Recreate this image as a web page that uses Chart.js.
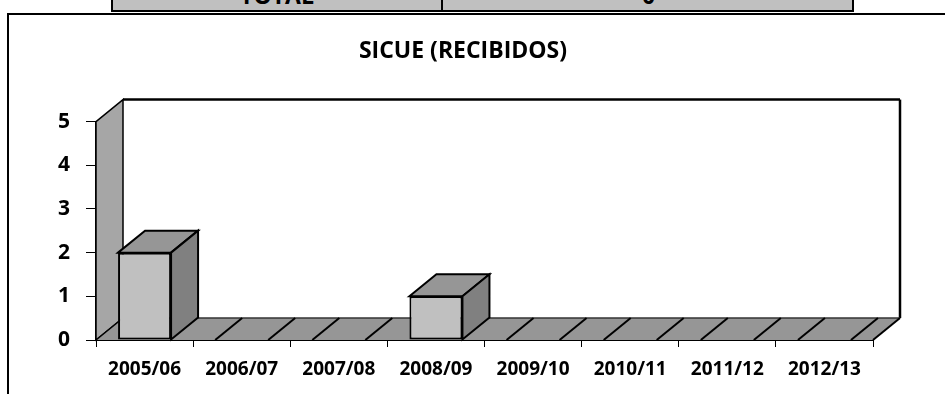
<!DOCTYPE html>
<html>
<head>
<meta charset="utf-8">
<title>SICUE (RECIBIDOS)</title>
<script src="https://cdn.jsdelivr.net/npm/chart.js@4.4.1/dist/chart.umd.min.js"></script>
<style>
  html, body { margin: 0; padding: 0; background: #fff; }
  body { position: relative; width: 945px; height: 394px; overflow: hidden; font-family: "Open Sans", sans-serif; }

  /* bottom edge of the summary table above the chart */
  .tbl { position: absolute; left: 111px; top: -30px; width: 739px; height: 38px; background: #c0c0c0; border: 2px solid #000; overflow: hidden; }
  .tbl .cell { position: absolute; top: 0; height: 38px; overflow: hidden; }
  .tbl .c1 { left: 0; width: 328px; }
  .tbl .c2 { left: 328px; width: 411px; border-left: 2px solid #000; }
  .tbl span { position: absolute; left: 0; right: 0; top: 12px; text-align: center; font: bold 23px/22px "Open Sans", sans-serif; color: #000; }

  .frame { position: absolute; left: 7px; top: 13px; width: 2000px; height: 2000px; border: 2px solid #000; }
  #chart { position: absolute; left: 0; top: 0; }
</style>
</head>
<body>
<div class="tbl">
  <div class="cell c1"><span>TOTAL</span></div>
  <div class="cell c2"><span>0</span></div>
</div>
<div class="frame"></div>
<canvas id="chart" width="945" height="394"></canvas>

<script>
const seasons = ["2005/06", "2006/07", "2007/08", "2008/09", "2009/10", "2010/11", "2011/12", "2012/13"];
const received = [2, 0, 0, 1, 0, 0, 0, 0];
const yTicks = [0, 1, 2, 3, 4, 5];

const FONT = "'Open Sans', sans-serif";
// depth of the fake 3D box (right / up)
const DX = 27;
const DY = -22;

function poly(ctx, pts) {
  ctx.beginPath();
  ctx.moveTo(pts[0][0], pts[0][1]);
  for (let i = 1; i < pts.length; i++) ctx.lineTo(pts[i][0], pts[i][1]);
  ctx.closePath();
}

function line(ctx, x1, y1, x2, y2, color, width) {
  ctx.beginPath();
  ctx.moveTo(x1, y1);
  ctx.lineTo(x2, y2);
  ctx.strokeStyle = color;
  ctx.lineWidth = width;
  ctx.stroke();
}

const box3d = {
  id: "box3d",
  beforeDatasetsDraw(chart) {
    const { ctx, chartArea, scales } = chart;
    const left = chartArea.left;
    const right = chartArea.right;
    const yBase = scales.y.getPixelForValue(yTicks[0]);
    const yTop = scales.y.getPixelForValue(yTicks[yTicks.length - 1]);

    ctx.save();
    ctx.lineJoin = "miter";

    // back wall
    ctx.fillStyle = "#ffffff";
    ctx.fillRect(left + DX, yTop + DY, right - left, yBase - yTop);
    line(ctx, left + DX, yTop + DY, right + DX, yTop + DY, "#000", 2.5);
    line(ctx, right + DX, yTop + DY, right + DX, yBase + DY, "#000", 2.5);

    // side wall
    poly(ctx, [[left, yBase], [left + DX, yBase + DY], [left + DX, yTop + DY], [left, yTop]]);
    ctx.fillStyle = "#a6a6a6";
    ctx.fill();
    ctx.strokeStyle = "#000";
    ctx.lineWidth = 1.5;
    ctx.stroke();

    // floor
    poly(ctx, [[left, yBase], [right, yBase], [right + DX, yBase + DY], [left + DX, yBase + DY]]);
    ctx.fillStyle = "#969696";
    ctx.fill();
    line(ctx, left + DX, yBase + DY, right + DX, yBase + DY, "#333", 1.5);
    line(ctx, right, yBase, right + DX, yBase + DY, "#000", 2);
    line(ctx, left, yBase, left + DX, yBase + DY, "#000", 1.5);
    ctx.restore();
  },
  afterDatasetsDraw(chart) {
    const { ctx } = chart;
    const meta = chart.getDatasetMeta(0);
    ctx.save();
    ctx.lineJoin = "miter";
    meta.data.forEach((bar, i) => {
      const x0 = bar.x - bar.width / 2;
      const x1 = bar.x + bar.width / 2;
      const yt = bar.y;
      const yb = bar.base;
      if (received[i] > 0) {
        // top face
        poly(ctx, [[x0, yt], [x0 + DX, yt + DY], [x1 + DX, yt + DY], [x1, yt]]);
        ctx.fillStyle = "#969696";
        ctx.fill();
        ctx.strokeStyle = "#000";
        ctx.lineWidth = 2;
        ctx.stroke();
        // right face
        poly(ctx, [[x1, yt], [x1 + DX, yt + DY], [x1 + DX, yb + DY], [x1, yb]]);
        ctx.fillStyle = "#808080";
        ctx.fill();
        ctx.stroke();
      } else {
        // flat column lying on the floor
        line(ctx, x0, yb, x0 + DX, yb + DY, "#000", 2);
        line(ctx, x1, yb, x1 + DX, yb + DY, "#000", 2);
      }
    });
    ctx.restore();
  }
};

new Chart(document.getElementById("chart"), {
  type: "bar",
  data: {
    labels: seasons,
    datasets: [{
      data: received,
      backgroundColor: "#c0c0c0",
      borderColor: "#000",
      borderWidth: 2,
      borderSkipped: false,
      categoryPercentage: 1,
      barPercentage: 0.546
    }]
  },
  options: {
    responsive: false,
    animation: false,
    devicePixelRatio: 1,
    layout: { padding: { left: 53, right: 72, top: 0, bottom: 0 } },
    scales: {
      x: {
        offset: true,
        grid: { offset: true, drawOnChartArea: false, drawTicks: true, tickLength: 7, color: "#000", lineWidth: 1 },
        border: { display: true, color: "#000", width: 2 },
        ticks: { color: "#000", font: { family: FONT, size: 19, weight: "bold" }, padding: 11, maxRotation: 0, autoSkip: false },
        afterFit: (scale) => { scale.height = 54; }
      },
      y: {
        min: yTicks[0],
        max: yTicks[yTicks.length - 1],
        grid: { drawOnChartArea: false, drawTicks: true, tickLength: 10, color: "#000", lineWidth: 1 },
        border: { display: true, color: "#000", width: 2 },
        ticks: { stepSize: 1, color: "#000", font: { family: FONT, size: 21, weight: "bold" }, padding: 16 },
        afterFit: (scale) => { scale.width = 43; }
      }
    },
    plugins: {
      legend: { display: false },
      tooltip: { enabled: false },
      title: {
        display: true,
        text: "SICUE (RECIBIDOS)",
        color: "#000",
        font: { family: FONT, size: 23, weight: "bold" },
        padding: { top: 38, bottom: 56 }
      }
    }
  },
  plugins: [box3d]
});
</script>
</body>
</html>
